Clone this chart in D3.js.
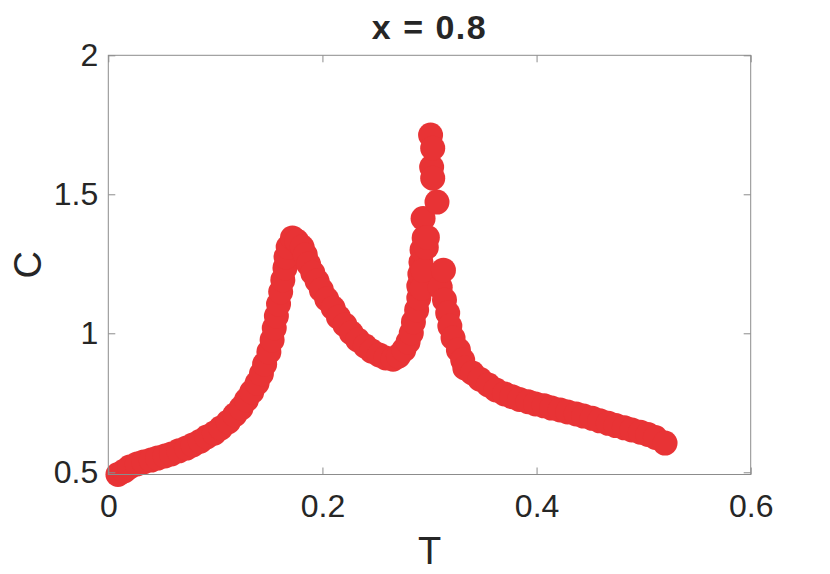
<!DOCTYPE html>
<html>
<head>
<meta charset="utf-8">
<script src="https://cdn.jsdelivr.net/npm/d3@7"></script>
<style>
  body { margin: 0; background: #fff; }
  text { font-family: "Liberation Sans", Arial, sans-serif; fill: #262626; }
</style>
</head>
<body>
<svg id="chart" width="830" height="574"></svg>
<script>
// data: temperature T and specific heat C
var tVals = [
  0.009, 0.015, 0.020, 0.027, 0.033, 0.040, 0.046, 0.053, 0.059, 0.066,
  0.073, 0.079, 0.086, 0.092, 0.099, 0.105, 0.112, 0.118, 0.124, 0.129,
  0.134, 0.139, 0.143, 0.146, 0.150, 0.153, 0.155, 0.157, 0.159, 0.161,
  0.163, 0.165, 0.166, 0.168, 0.172, 0.176, 0.181, 0.184, 0.187, 0.191,
  0.195, 0.199, 0.204, 0.210, 0.215, 0.221, 0.227, 0.233, 0.240, 0.246,
  0.253, 0.259, 0.266, 0.271, 0.276, 0.280, 0.283, 0.285, 0.288, 0.290,
  0.290, 0.291, 0.292, 0.293, 0.293, 0.294, 0.294, 0.295, 0.297, 0.298,
  0.301, 0.302, 0.303, 0.303, 0.307, 0.310, 0.313, 0.314, 0.317, 0.319,
  0.322, 0.327, 0.331, 0.333, 0.340, 0.347, 0.355, 0.362, 0.370, 0.377,
  0.384, 0.392, 0.399, 0.407, 0.414, 0.422, 0.429, 0.437, 0.444, 0.452,
  0.459, 0.467, 0.474, 0.482, 0.489, 0.497, 0.504, 0.511, 0.520
];
var cVals = [
  0.492, 0.505, 0.519, 0.530, 0.537, 0.544, 0.551, 0.559, 0.566, 0.577,
  0.587, 0.598, 0.612, 0.627, 0.641, 0.659, 0.681, 0.706, 0.731, 0.760,
  0.789, 0.821, 0.854, 0.889, 0.933, 0.976, 1.019, 1.062, 1.105, 1.149,
  1.192, 1.235, 1.275, 1.310, 1.343, 1.332, 1.310, 1.282, 1.249, 1.217,
  1.188, 1.156, 1.123, 1.091, 1.058, 1.030, 1.001, 0.976, 0.954, 0.936,
  0.922, 0.911, 0.907, 0.918, 0.940, 0.969, 1.001, 1.041, 1.084, 1.127,
  1.170, 1.213, 1.256, 1.300, 1.161, 1.226, 1.413, 1.343, 1.309, 1.345,
  1.713, 1.598, 1.666, 1.558, 1.472, 1.166, 1.227, 1.120, 1.073, 1.026,
  0.983, 0.940, 0.904, 0.875, 0.857, 0.835, 0.814, 0.796, 0.782, 0.772,
  0.762, 0.754, 0.746, 0.739, 0.731, 0.724, 0.717, 0.710, 0.702, 0.694,
  0.685, 0.676, 0.668, 0.660, 0.652, 0.644, 0.636, 0.625, 0.605
];
var xTicks = [0, 0.2, 0.4, 0.6];
var yTicks = [0.5, 1, 1.5, 2];

var data = tVals.map(function(t, i) {
  return {t: t, c: cVals[i]};
});

var margin = {top: 55.3, right: 79.3, bottom: 99.5, left: 108.3},
  w = 830 - margin.left - margin.right,
  h = 574 - margin.top - margin.bottom;

var svg = d3.select("#chart");

var xScale = d3.scaleLinear().domain([0, 0.6]).range([0, w]);
var yScale = d3.scaleLinear().domain([0.492, 2]).range([h, 0]);

var g = svg.append("g")
  .attr("transform", "translate(" + margin.left + "," + margin.top + ")");

var tickColor = "#8c8c8c";

// points
g.selectAll("circle")
  .data(data)
  .enter().append("circle")
  .attr("cx", function(d) { return xScale(d.t); })
  .attr("cy", function(d) { return yScale(d.c); })
  .attr("r", 12.5)
  .attr("fill", "#e83335");

// axes (ticks pointing inward, MATLAB style)
function styleAxis(sel) {
  sel.select(".domain").remove();
  sel.selectAll(".tick line").attr("stroke", tickColor);
  sel.selectAll(".tick text")
    .attr("font-size", 32)
    .attr("fill", "#262626")
    .style("font-family", "'Liberation Sans', Arial, sans-serif");
}

g.append("g")
  .attr("transform", "translate(0," + h + ")")
  .call(d3.axisBottom(xScale).tickValues(xTicks).tickFormat(d3.format("")).tickSize(-7).tickPadding(20))
  .call(styleAxis);

g.append("g")
  .call(d3.axisTop(xScale).tickValues(xTicks).tickSize(-7).tickFormat(""))
  .call(styleAxis);

g.append("g")
  .call(d3.axisLeft(yScale).tickValues(yTicks).tickFormat(d3.format("")).tickSize(-7).tickPadding(10))
  .call(styleAxis);

g.append("g")
  .attr("transform", "translate(" + w + ",0)")
  .call(d3.axisRight(yScale).tickValues(yTicks).tickSize(-7).tickFormat(""))
  .call(styleAxis);

// box
g.append("rect")
  .attr("x", 0).attr("y", 0)
  .attr("width", w).attr("height", h)
  .attr("fill", "none")
  .attr("stroke", tickColor)
  .attr("stroke-width", 1);

// title and labels
svg.append("text")
  .attr("x", margin.left + w / 2)
  .attr("y", 39)
  .attr("text-anchor", "middle")
  .attr("font-size", 34)
  .attr("letter-spacing", 1.5)
  .attr("font-weight", "bold")
  .text("x = 0.8");

svg.append("text")
  .attr("x", margin.left + w / 2)
  .attr("y", 564)
  .attr("text-anchor", "middle")
  .attr("font-size", 38)
  .text("T");

svg.append("text")
  .attr("transform", "translate(41," + (margin.top + h / 2) + ") rotate(-90)")
  .attr("text-anchor", "middle")
  .attr("font-size", 38)
  .text("C");
</script>
</body>
</html>
